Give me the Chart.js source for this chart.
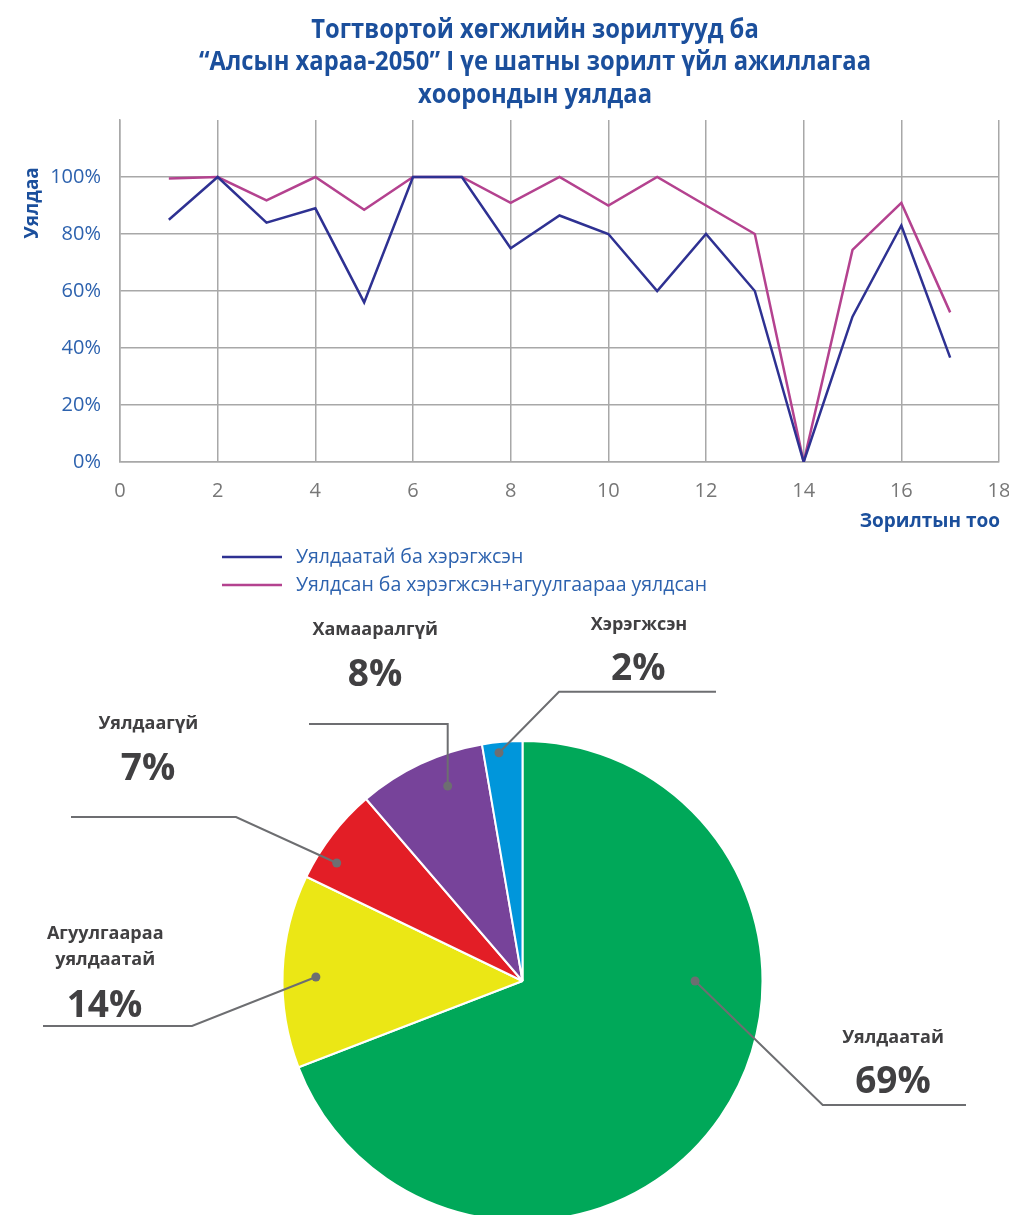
<!DOCTYPE html>
<html><head><meta charset="utf-8">
<script src="https://cdn.jsdelivr.net/npm/chart.js@4.4.1/dist/chart.umd.min.js"></script>
<style>
html,body{margin:0;padding:0;background:#fff;overflow:hidden;width:1009px;height:1215px;}
#lineBox{position:absolute;left:0;top:0;width:1009px;height:600px;}
#pieBox{position:absolute;left:0;top:600px;width:1009px;height:630px;}
</style></head><body>
<div id="lineBox"><canvas id="lineChart"></canvas></div>
<div id="pieBox"><canvas id="pieChart"></canvas></div>
<script>
// ---------- DATA ----------
const titleLines = ['Тогтвортой хөгжлийн зорилтууд ба', '“Алсын хараа-2050” I үе шатны зорилт үйл ажиллагаа', 'хоорондын уялдаа'];
const goalNumbers = [1, 2, 3, 4, 5, 6, 7, 8, 9, 10, 11, 12, 13, 14, 15, 16, 17];
const linkedImplemented = [0.85, 1.00, 0.84, 0.89, 0.56, 1.00, 1.00, 0.75, 0.865, 0.80, 0.60, 0.80, 0.60, 0.00, 0.51, 0.83, 0.366];
const linkedPlusContent = [0.995, 1.00, 0.918, 1.00, 0.885, 1.00, 1.00, 0.909, 1.00, 0.90, 1.00, 0.90, 0.80, 0.00, 0.744, 0.909, 0.525];
const seriesNames = ['Уялдаатай ба хэрэгжсэн', 'Уялдсан ба хэрэгжсэн+агуулгаараа уялдсан'];
const yTickValues = [0, 0.2, 0.4, 0.6, 0.8, 1.0];
const xTickValues = [0, 2, 4, 6, 8, 10, 12, 14, 16, 18];
const xAxisTitle = 'Зорилтын тоо';
const yAxisTitle = 'Уялдаа';

const pieLabels = [['Уялдаатай'], ['Агуулгаараа', 'уялдаатай'], ['Уялдаагүй'], ['Хамааралгүй'], ['Хэрэгжсэн']];
const pieShares = [69.15, 13.0, 6.55, 8.6, 2.7];
const pieLabelPercents = ['69%', '14%', '7%', '8%', '2%'];

// ---------- STYLES ----------
const FONT = '"Open Sans", "Noto Sans", sans-serif';
const lineColors = ['#2e3192', '#b4428f'];
const pieColors = ['#00a859', '#ebe715', '#e31e26', '#77439a', '#0096db'];
const gridColor = '#a8a8a8';
const titleBlue = '#1b4f9c';
const tickBlue = '#2d62ae';

const lineDecor = {
  id: 'lineDecor',
  afterDraw(chart) {
    const ctx = chart.ctx;
    ctx.save();
    // title (condensed look)
    ctx.fillStyle = titleBlue;
    ctx.font = 'bold 27px ' + FONT;
    const w2 = ctx.measureText(titleLines[1]).width;
    const sx = 672 / w2;
    const baselines = [37.5, 70, 102.5];
    titleLines.forEach((t, i) => {
      ctx.save();
      ctx.translate(535, baselines[i]);
      ctx.scale(sx, 1);
      ctx.textAlign = 'center';
      ctx.textBaseline = 'alphabetic';
      ctx.fillText(t, 0, 0);
      ctx.restore();
    });
    // y axis title
    ctx.save();
    ctx.translate(33, 203);
    ctx.rotate(-Math.PI / 2);
    ctx.font = 'bold 19px ' + FONT;
    ctx.textAlign = 'center';
    ctx.textBaseline = 'middle';
    ctx.fillText(yAxisTitle, 0, 0);
    ctx.restore();
    // x axis title
    ctx.font = 'bold 19px ' + FONT;
    ctx.textAlign = 'right';
    ctx.textBaseline = 'alphabetic';
    ctx.fillText(xAxisTitle, chart.chartArea.right + 1, 527);
    // legend
    chart.data.datasets.forEach((ds, i) => {
      const y = 557 + i * 28;
      ctx.strokeStyle = ds.borderColor;
      ctx.lineWidth = 2.5;
      ctx.beginPath(); ctx.moveTo(222, y); ctx.lineTo(282, y); ctx.stroke();
      ctx.fillStyle = tickBlue;
      ctx.font = '19.5px ' + FONT;
      ctx.textAlign = 'left';
      ctx.textBaseline = 'middle';
      ctx.fillText(ds.label, 296, y);
    });
    ctx.restore();
  }
};

new Chart(document.getElementById('lineChart'), {
  type: 'line',
  data: {
    datasets: [
      { label: seriesNames[0], data: goalNumbers.map((g, i) => ({ x: g, y: linkedImplemented[i] })), borderColor: lineColors[0] },
      { label: seriesNames[1], data: goalNumbers.map((g, i) => ({ x: g, y: linkedPlusContent[i] })), borderColor: lineColors[1] }
    ]
  },
  options: {
    animation: false,
    responsive: true,
    maintainAspectRatio: false,
    layout: { padding: { top: 120, right: 10, left: 0, bottom: 0 } },
    elements: { line: { borderWidth: 2.5, tension: 0, fill: false }, point: { radius: 0, hoverRadius: 0 } },
    plugins: { legend: { display: false }, tooltip: { enabled: false }, title: { display: false } },
    scales: {
      x: {
        type: 'linear', min: 0, max: 18,
        afterBuildTicks: s => { s.ticks = xTickValues.map(v => ({ value: v })); },
        afterFit: s => { s.height = 138; s.paddingRight = 0; s.paddingLeft = 0; },
        grid: { color: gridColor, lineWidth: 1.5, drawTicks: false },
        border: { color: gridColor, width: 1.5 },
        ticks: { color: '#777777', font: { family: FONT, size: 20 }, padding: 17, maxRotation: 0 }
      },
      y: {
        min: 0, max: 1.2,
        afterBuildTicks: s => { s.ticks = yTickValues.map(v => ({ value: v })); },
        afterFit: s => { s.width = 120; s.paddingTop = 0; s.paddingBottom = 0; },
        grid: { color: gridColor, lineWidth: 1.5, drawTicks: false },
        border: { color: gridColor, width: 1.5 },
        ticks: { color: tickBlue, font: { family: FONT, size: 20 }, padding: 19, callback: v => Math.round(v * 100) + '%' }
      }
    }
  },
  plugins: [lineDecor]
});

// ---------- PIE ----------
const calloutStyle = [
  { frac: 0.3615, rho: 0.719, elbow: [300.2, 124], end: [443.5, 124], text: [370.5, 62], textStep: 26, pct: [370.5, 112] },
  { frac: 0.4735, rho: 0.861, elbow: [-330.5, 45], end: [-479.5, 45], text: [-417.3, -41.7], textStep: 26, pct: [-418, 35.7] },
  { frac: 0.283, rho: 0.917, elbow: [-286.5, -164], end: [-451.5, -164], text: [-374.2, -252.3], textStep: 26, pct: [-374.5, -201] },
  { frac: 0.636, rho: 0.870, elbow: [-74.8, -257], end: [-213.5, -257], text: [-147.3, -346], textStep: 26, pct: [-147.5, -295] },
  { frac: 0.395, rho: 0.956, elbow: [36.5, -289.3], end: [193.5, -289.3], text: [116.5, -351], textStep: 26, pct: [115.8, -301] }
];

const pieCallouts = {
  id: 'pieCallouts',
  afterDraw(chart) {
    const ctx = chart.ctx;
    const meta = chart.getDatasetMeta(0);
    ctx.save();
    meta.data.forEach((arc, i) => {
      const st = calloutStyle[i];
      const p = arc.getProps(['x', 'y', 'startAngle', 'endAngle', 'outerRadius'], true);
      const r = 240;
      const a = p.startAngle + st.frac * (p.endAngle - p.startAngle);
      const dx = p.x + st.rho * r * Math.cos(a);
      const dy = p.y + st.rho * r * Math.sin(a);
      ctx.strokeStyle = '#6d6e71';
      ctx.fillStyle = '#6d6e71';
      ctx.lineWidth = 2;
      ctx.beginPath();
      ctx.moveTo(dx, dy);
      ctx.lineTo(p.x + st.elbow[0], p.y + st.elbow[1]);
      ctx.lineTo(p.x + st.end[0], p.y + st.end[1]);
      ctx.stroke();
      ctx.beginPath(); ctx.arc(dx, dy, 4.5, 0, Math.PI * 2); ctx.fill();
      ctx.fillStyle = '#414042';
      ctx.textAlign = 'center';
      ctx.textBaseline = 'alphabetic';
      ctx.font = 'bold 18px ' + FONT;
      pieLabels[i].forEach((t, k) => ctx.fillText(t, p.x + st.text[0], p.y + st.text[1] + k * st.textStep));
      ctx.font = 'bold 37px ' + FONT;
      ctx.fillText(pieLabelPercents[i], p.x + st.pct[0], p.y + st.pct[1]);
    });
    ctx.restore();
  }
};

new Chart(document.getElementById('pieChart'), {
  type: 'pie',
  data: {
    labels: pieLabels.map(l => l.join(' ')),
    datasets: [{ data: pieShares, backgroundColor: pieColors, borderColor: '#ffffff', borderWidth: 2 }]
  },
  options: {
    animation: false,
    responsive: true,
    maintainAspectRatio: false,
    layout: { padding: { left: 281.5, right: 245.5, top: 140, bottom: 8 } },
    plugins: { legend: { display: false }, tooltip: { enabled: false } }
  },
  plugins: [pieCallouts]
});
</script>
</body></html>
